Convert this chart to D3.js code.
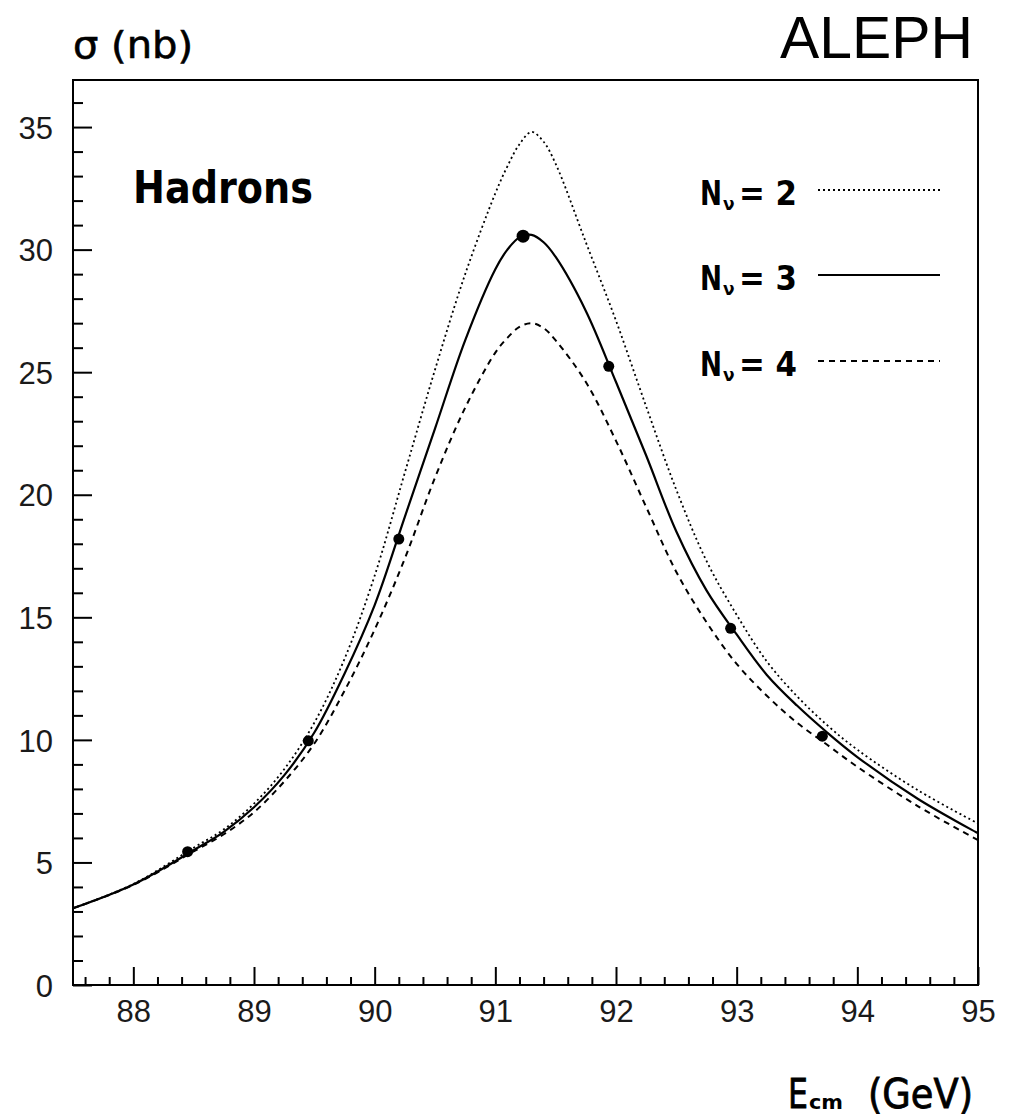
<!DOCTYPE html>
<html><head><meta charset="utf-8">
<script src="https://cdn.jsdelivr.net/npm/d3@7"></script>
<style>body{margin:0;background:#fff}</style>
</head><body>
<svg id="c" width="1011" height="1120"></svg>
<script>
const energies = [87.5,88.0,88.5,88.75,89.0,89.25,89.5,89.75,90.0,90.25,90.5,90.75,91.0,91.1,91.2,91.3,91.4,91.5,91.75,92.0,92.25,92.5,92.75,93.0,93.25,93.5,93.75,94.0,94.5,95.0];
const sigmaN2 = [3.13,4.12,5.6,6.35,7.4,8.8,10.7,13.3,16.7,20.9,25.1,29.0,32.3,33.4,34.3,34.8,34.4,33.5,30.3,27.1,23.6,20.2,17.3,15.1,13.2,11.78,10.6,9.6,7.95,6.59];
const sigmaN3 = [3.13,4.10,5.5,6.25,7.25,8.55,10.3,12.7,15.5,19.1,22.7,26.3,29.2,30.0,30.5,30.6,30.3,29.7,27.5,24.6,21.6,18.5,16.1,14.3,12.65,11.4,10.3,9.3,7.6,6.19];
const sigmaN4 = [3.13,4.08,5.45,6.15,7.05,8.3,9.85,12.0,14.5,17.4,20.7,23.55,25.8,26.4,26.85,27.0,26.8,26.3,24.6,22.2,19.5,16.85,14.8,13.1,11.8,10.7,9.8,8.9,7.3,5.91];
const dataE = [88.45,89.45,90.20,91.23,91.94,92.95,93.71];
const dataSigma = [5.44,9.96,18.19,30.55,25.24,14.55,10.15];
const xTicks = [88,89,90,91,92,93,94,95];
const yTicks = [0,5,10,15,20,25,30,35];
const legendLabels = ["2","3","4"];

const svg = d3.select("#c");
const L=73, R=978, T=80, B=985;
const x = d3.scaleLinear().domain([87.5,95]).range([L,R]);
const y = d3.scaleLinear().domain([0,36.92]).range([B,T]);
const labelFont = "'Liberation Sans', Arial, sans-serif";
const hershey = "'DejaVu Sans', sans-serif";

// frame
svg.append("rect").attr("x",L).attr("y",T).attr("width",R-L).attr("height",B-T)
  .attr("fill","none").attr("stroke","#000").attr("stroke-width",2);

// ticks
const xMinor = d3.range(87.6,95.0001,0.2).filter(v=>Math.abs(v-Math.round(v))>0.01);
svg.append("g").attr("transform",`translate(0,${B})`)
  .call(d3.axisBottom(x).tickValues(xMinor).tickSize(-8).tickFormat(""))
  .call(g=>g.select(".domain").remove())
  .call(g=>g.selectAll("line").attr("stroke","#000").attr("stroke-width",2));
svg.append("g").attr("transform",`translate(0,${B})`)
  .call(d3.axisBottom(x).tickValues(xTicks).tickSize(-18).tickPadding(0).tickFormat(d=>d))
  .call(g=>g.select(".domain").remove())
  .call(g=>g.selectAll("line").attr("stroke","#000").attr("stroke-width",2))
  .call(g=>g.selectAll("text").attr("y",37).attr("dy",0).attr("font-family",labelFont).attr("font-size",31).attr("fill","#1a1a1a"));

const yMinor = d3.range(1,37,1).filter(v=>v%5!==0);
svg.append("g").attr("transform",`translate(${L},0)`)
  .call(d3.axisLeft(y).tickValues(yMinor).tickSize(-10).tickFormat(""))
  .call(g=>g.select(".domain").remove())
  .call(g=>g.selectAll("line").attr("stroke","#000").attr("stroke-width",2));
svg.append("g").attr("transform",`translate(${L},0)`)
  .call(d3.axisLeft(y).tickValues(yTicks).tickSize(-19).tickPadding(0).tickFormat(d=>d))
  .call(g=>g.select(".domain").remove())
  .call(g=>g.selectAll("line").attr("stroke","#000").attr("stroke-width",2))
  .call(g=>g.selectAll("text").attr("x",-20).attr("dy","0.36em").attr("font-family",labelFont).attr("font-size",31).attr("fill","#1a1a1a"));

// curves
svg.append("clipPath").attr("id","pc").append("rect")
  .attr("x",L).attr("y",T).attr("width",R-L).attr("height",B-T);
const line = d3.line().x(d=>x(d[0])).y(d=>y(d[1])).curve(d3.curveCatmullRom.alpha(0.5));
const styles = [
  {vals:sigmaN2, dash:"2,3", w:1.8},
  {vals:sigmaN3, dash:null, w:2.2},
  {vals:sigmaN4, dash:"6,5", w:2}
];
const cg = svg.append("g").attr("clip-path","url(#pc)");
styles.forEach(s=>{
  cg.append("path").datum(energies.map((e,i)=>[e,s.vals[i]]))
    .attr("d",line).attr("fill","none").attr("stroke","#000")
    .attr("stroke-width",s.w).attr("stroke-dasharray",s.dash);
});

// data points
svg.append("g").selectAll("circle").data(dataE.map((e,i)=>[e,dataSigma[i]]))
  .join("circle").attr("cx",d=>x(d[0])).attr("cy",d=>y(d[1]))
  .attr("r",(d,i)=>i===3?6.5:5.5).attr("fill","#000");

// texts
svg.append("text").attr("x",73).attr("y",58).attr("font-family",hershey)
  .attr("font-size",38).attr("stroke","#000").attr("stroke-width",0.6)
  .attr("textLength",120).attr("lengthAdjust","spacingAndGlyphs").text("σ (nb)");
svg.append("text").attr("x",973).attr("y",58).attr("text-anchor","end").attr("font-family",labelFont)
  .attr("font-size",60).attr("textLength",193).attr("lengthAdjust","spacingAndGlyphs").text("ALEPH");
svg.append("text").attr("x",133).attr("y",203).attr("font-family",hershey).attr("font-weight","bold")
  .attr("font-size",44).attr("textLength",180).attr("lengthAdjust","spacingAndGlyphs").text("Hadrons");

svg.append("text").attr("x",788).attr("y",1108).attr("font-family",hershey).attr("font-size",40)
  .attr("stroke","#000").attr("stroke-width",0.8).attr("textLength",20).attr("lengthAdjust","spacingAndGlyphs").text("E");
svg.append("text").attr("x",809).attr("y",1109).attr("font-family",hershey).attr("font-weight","bold").attr("font-size",20)
  .attr("textLength",34).attr("lengthAdjust","spacingAndGlyphs").text("cm");
svg.append("text").attr("x",868).attr("y",1108).attr("font-family",hershey).attr("font-size",40)
  .attr("stroke","#000").attr("stroke-width",0.8).attr("textLength",105).attr("lengthAdjust","spacingAndGlyphs").text("(GeV)");

// legend
const legY = [190,275,361];
legendLabels.forEach((lab,i)=>{
  const by = legY[i]+15;
  svg.append("text").attr("x",700).attr("y",by).attr("font-family",hershey).attr("font-weight","bold")
    .attr("font-size",33).attr("textLength",22).attr("lengthAdjust","spacingAndGlyphs").text("N");
  svg.append("text").attr("x",723).attr("y",by+5).attr("font-family",hershey).attr("font-weight","bold")
    .attr("font-size",17).text("ν");
  svg.append("text").attr("x",739).attr("y",by).attr("font-family",hershey).attr("font-weight","bold")
    .attr("font-size",33).attr("textLength",58).attr("lengthAdjust","spacingAndGlyphs").text("= " + lab);
  svg.append("line").attr("x1",818).attr("x2",940).attr("y1",legY[i]).attr("y2",legY[i])
    .attr("stroke","#000").attr("stroke-width",styles[i].w).attr("stroke-dasharray",styles[i].dash);
});
</script>
</body></html>
